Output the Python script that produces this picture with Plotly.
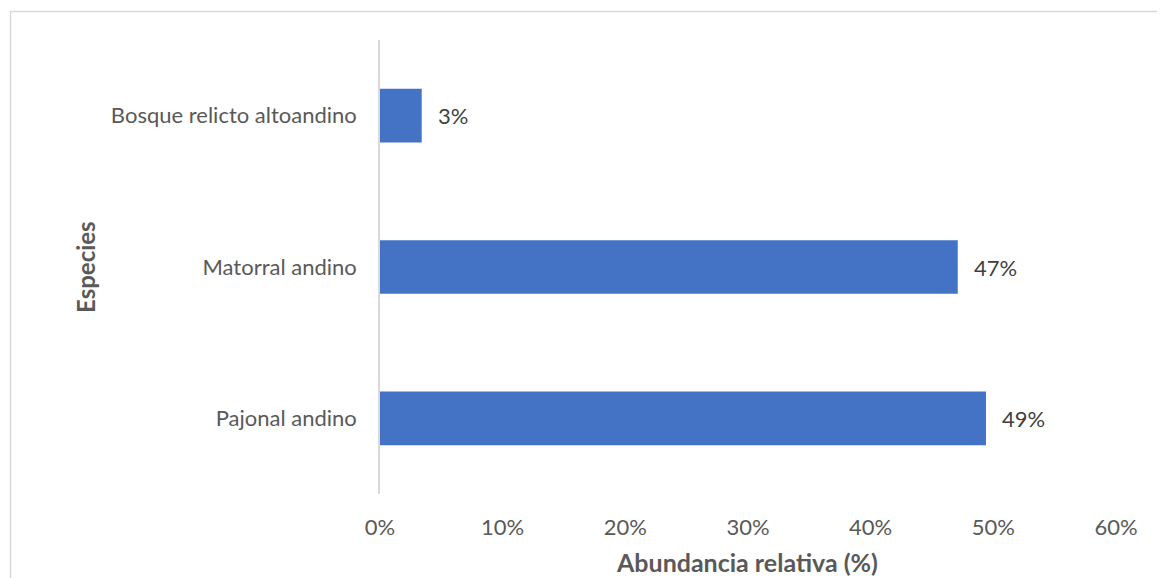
import plotly.graph_objects as go

categories = ["Bosque relicto altoandino", "Matorral andino", "Pajonal andino"]
values = [3.4, 47.1, 49.4]
x_ticks = [0, 10, 20, 30, 40, 50, 60]
x_ticklabels = ["0%", "10%", "20%", "30%", "40%", "50%", "60%"]
label_texts = [f"{v:.0f}%" for v in values]

# page body has an 8px default margin; figure is laid out in page pixels minus 8
OFF = 8
W, H = 1165 - OFF, 578 - OFF
ML, MT = 380 - OFF, 40 - OFF
MR = W - (1116 - OFF)
MB = H - (494 - OFF)
PW, PH = W - ML - MR, H - MT - MB

def px_x(p):
    return (p - OFF - ML) / PW

def px_y(p):
    return (H - MB - (p - OFF)) / PH

FONT = "Lato"

fig = go.Figure()
fig.add_trace(go.Bar(
    x=values, y=categories, orientation="h",
    marker=dict(color="#4472C4", line=dict(width=0)),
    width=0.355, hoverinfo="skip",
))

for v, c, t in zip(values, categories, label_texts):
    fig.add_annotation(x=v, y=c, xref="x", yref="y", text=t, showarrow=False,
                       xanchor="left", yanchor="middle", xshift=14,
                       font=dict(family=FONT, size=22, color="#404040"))

fig.add_annotation(x=px_x(85), y=px_y(267), xref="paper", yref="paper",
                   text="<b>Especies</b>", textangle=-90, showarrow=False,
                   xanchor="center", yanchor="middle",
                   font=dict(family=FONT, size=24, color="#595959"))
fig.add_annotation(x=px_x(747), y=px_y(562), xref="paper", yref="paper",
                   text="<b>Abundancia relativa (%)</b>", showarrow=False,
                   xanchor="center", yanchor="middle", borderpad=0,
                   font=dict(family=FONT, size=25, color="#595959"))

fig.add_shape(type="rect", xref="paper", yref="paper",
              x0=px_x(10.5), x1=px_x(1190), y0=px_y(600), y1=px_y(11.5),
              line=dict(color="#d9d9d9", width=1.5), fillcolor="rgba(0,0,0,0)", layer="below")

fig.update_layout(
    width=W, height=H,
    margin=dict(l=ML, r=MR, t=MT, b=MB),
    paper_bgcolor="white", plot_bgcolor="white",
    showlegend=False,
    xaxis=dict(range=[0, 60], tickvals=x_ticks, ticktext=x_ticklabels,
               showgrid=False, zeroline=False, showline=False, ticks="",
               ticklabelstandoff=18,
               tickfont=dict(family=FONT, size=22, color="#595959")),
    yaxis=dict(categoryorder="array", categoryarray=categories[::-1],
               showgrid=False, zeroline=False, showline=True,
               linecolor="#d9d9d9", linewidth=1.5, ticks="",
               ticklabelstandoff=17,
               tickfont=dict(family=FONT, size=22, color="#595959")),
)

fig.write_html("out.html")
